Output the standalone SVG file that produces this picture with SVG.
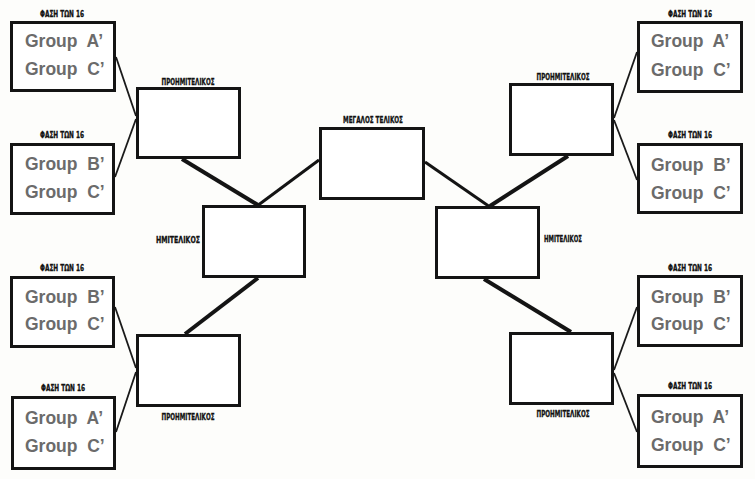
<svg xmlns="http://www.w3.org/2000/svg" width="755" height="479" viewBox="0 0 755 479">
<style>
.box{fill:#ffffff;stroke:#141414;stroke-width:3}
.grp{font-family:"Liberation Sans",Arial,sans-serif;font-weight:bold;font-size:17.5px;fill:#6b6b6b;white-space:pre}
.lbl{font-family:"DejaVu Sans Condensed","DejaVu Sans",sans-serif;font-weight:bold;font-size:8.5px;fill:#111;stroke:#111;stroke-width:0.3}
.thin{stroke:#1a1a1a;stroke-width:1.8;fill:none}
.thick{stroke:#141414;stroke-width:4;fill:none}
.mid{stroke:#141414;stroke-width:3;fill:none}
</style>
<rect width="755" height="479" fill="#fdfdfb"/>
<g id="connectors">
<line class="thin" x1="116" y1="57" x2="136" y2="116"/>
<line class="thin" x1="115" y1="177" x2="136" y2="119"/>
<line class="thin" x1="115" y1="307" x2="136" y2="368"/>
<line class="thin" x1="116" y1="432" x2="136" y2="372"/>
<line class="thin" x1="637" y1="52" x2="614" y2="118"/>
<line class="thin" x1="637" y1="180" x2="614" y2="120"/>
<line class="thin" x1="637" y1="307" x2="614" y2="370"/>
<line class="thin" x1="637" y1="432" x2="614" y2="373"/>
<line class="thick" x1="182" y1="159" x2="258" y2="205"/>
<line class="thick" x1="185" y1="334" x2="258" y2="278"/>
<line class="thick" x1="568" y1="156" x2="490" y2="206"/>
<line class="thick" x1="571" y1="332" x2="484" y2="279"/>
<line class="mid" x1="319" y1="160" x2="257" y2="206"/>
<line class="mid" x1="425" y1="162" x2="490" y2="207"/>
</g>
<g id="r16-l1">
<text class="lbl" x="62" y="17" text-anchor="middle" textLength="44" lengthAdjust="spacingAndGlyphs">ΦΑΣΗ ΤΩΝ 16</text>
<rect class="box" x="11.5" y="22.5" width="103" height="68"/>
<text class="grp" x="25" y="47">Group  A’</text>
<text class="grp" x="25" y="75">Group  C’</text>
</g>
<g id="r16-l2">
<text class="lbl" x="62" y="138" text-anchor="middle" textLength="44" lengthAdjust="spacingAndGlyphs">ΦΑΣΗ ΤΩΝ 16</text>
<rect class="box" x="11.5" y="144.5" width="102" height="69"/>
<text class="grp" x="25" y="170">Group  B’</text>
<text class="grp" x="25" y="198">Group  C’</text>
</g>
<g id="r16-l3">
<text class="lbl" x="62" y="271" text-anchor="middle" textLength="44" lengthAdjust="spacingAndGlyphs">ΦΑΣΗ ΤΩΝ 16</text>
<rect class="box" x="11.5" y="277.5" width="102" height="69"/>
<text class="grp" x="25" y="303">Group  B’</text>
<text class="grp" x="25" y="330">Group  C’</text>
</g>
<g id="r16-l4">
<text class="lbl" x="63" y="391" text-anchor="middle" textLength="44" lengthAdjust="spacingAndGlyphs">ΦΑΣΗ ΤΩΝ 16</text>
<rect class="box" x="12.5" y="397.5" width="102" height="71"/>
<text class="grp" x="25" y="424">Group  A’</text>
<text class="grp" x="25" y="452">Group  C’</text>
</g>
<g id="r16-r1">
<text class="lbl" x="690" y="17" text-anchor="middle" textLength="44" lengthAdjust="spacingAndGlyphs">ΦΑΣΗ ΤΩΝ 16</text>
<rect class="box" x="638.5" y="22.5" width="103" height="69"/>
<text class="grp" x="651" y="47">Group  A’</text>
<text class="grp" x="651" y="76">Group  C’</text>
</g>
<g id="r16-r2">
<text class="lbl" x="690" y="138" text-anchor="middle" textLength="44" lengthAdjust="spacingAndGlyphs">ΦΑΣΗ ΤΩΝ 16</text>
<rect class="box" x="638.5" y="144.5" width="103" height="68"/>
<text class="grp" x="651" y="171">Group  B’</text>
<text class="grp" x="651" y="199">Group  C’</text>
</g>
<g id="r16-r3">
<text class="lbl" x="690" y="271" text-anchor="middle" textLength="44" lengthAdjust="spacingAndGlyphs">ΦΑΣΗ ΤΩΝ 16</text>
<rect class="box" x="638.5" y="276.5" width="103" height="69"/>
<text class="grp" x="651" y="303">Group  B’</text>
<text class="grp" x="651" y="330">Group  C’</text>
</g>
<g id="r16-r4">
<text class="lbl" x="690" y="389" text-anchor="middle" textLength="44" lengthAdjust="spacingAndGlyphs">ΦΑΣΗ ΤΩΝ 16</text>
<rect class="box" x="638.5" y="395.5" width="103" height="71"/>
<text class="grp" x="651" y="423">Group  A’</text>
<text class="grp" x="651" y="451">Group  C’</text>
</g>
<g id="qf-l1">
<text class="lbl" x="188" y="85" text-anchor="middle" textLength="53" lengthAdjust="spacingAndGlyphs">ΠΡΟΗΜΙΤΕΛΙΚΟΣ</text>
<rect class="box" x="137.5" y="88.5" width="102" height="69"/>
</g>
<g id="qf-l2">
<rect class="box" x="137.5" y="335.5" width="102" height="70"/>
<text class="lbl" x="188" y="420" text-anchor="middle" textLength="53" lengthAdjust="spacingAndGlyphs">ΠΡΟΗΜΙΤΕΛΙΚΟΣ</text>
</g>
<g id="qf-r1">
<text class="lbl" x="563" y="80" text-anchor="middle" textLength="53" lengthAdjust="spacingAndGlyphs">ΠΡΟΗΜΙΤΕΛΙΚΟΣ</text>
<rect class="box" x="510.5" y="84.5" width="102" height="70"/>
</g>
<g id="qf-r2">
<rect class="box" x="510.5" y="333.5" width="102" height="70"/>
<text class="lbl" x="563" y="417" text-anchor="middle" textLength="53" lengthAdjust="spacingAndGlyphs">ΠΡΟΗΜΙΤΕΛΙΚΟΣ</text>
</g>
<g id="sf-l">
<text class="lbl" x="178" y="243" text-anchor="middle" textLength="44" lengthAdjust="spacingAndGlyphs">ΗΜΙΤΕΛΙΚΟΣ</text>
<rect class="box" x="203.5" y="206.5" width="101" height="70"/>
</g>
<g id="sf-r">
<rect class="box" x="436.5" y="207.5" width="102" height="70"/>
<text class="lbl" x="563" y="242" text-anchor="middle" textLength="38" lengthAdjust="spacingAndGlyphs">ΗΜΙΤΕΛΙΚΟΣ</text>
</g>
<g id="final">
<text class="lbl" x="373" y="123" text-anchor="middle" textLength="60" lengthAdjust="spacingAndGlyphs">ΜΕΓΑΛΟΣ ΤΕΛΙΚΟΣ</text>
<rect class="box" x="320.5" y="128.5" width="103" height="70"/>
</g>
</svg>
